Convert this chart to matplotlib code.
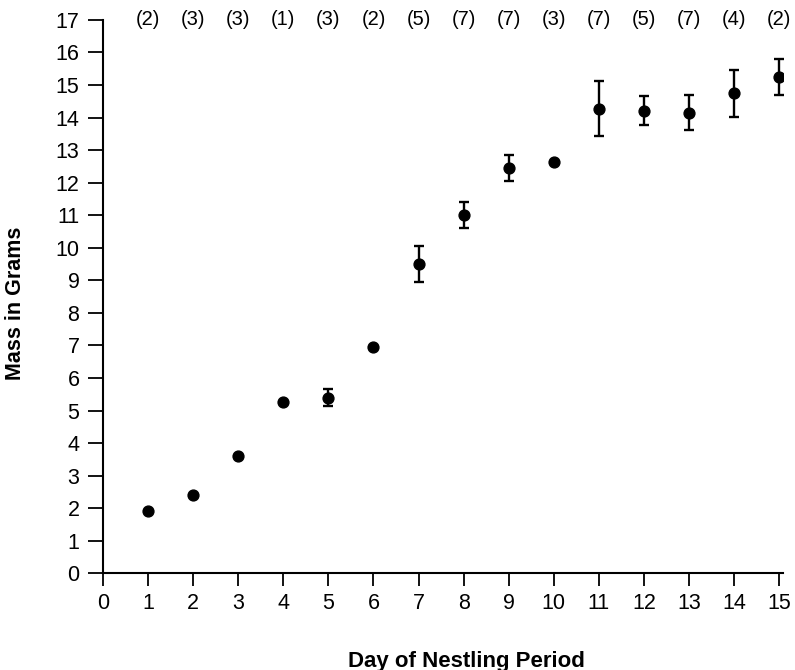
import matplotlib.pyplot as plt

plt.rcParams['font.family'] = ['Liberation Sans', 'DejaVu Sans']

# nestling mass by day, with error bars and sample sizes
days = [1, 2, 3, 4, 5, 6, 7, 8, 9, 10, 11, 12, 13, 14, 15]
mass = [1.9, 2.4, 3.6, 5.25, 5.4, 6.95, 9.5, 11.0, 12.45, 12.63,
        14.27, 14.21, 14.15, 14.74, 15.25]
err = [0, 0, 0, 0, 0.25, 0, 0.55, 0.4, 0.41, 0,
       0.85, 0.45, 0.53, 0.72, 0.55]
n_birds = ['(2)', '(3)', '(3)', '(1)', '(3)', '(2)', '(5)', '(7)', '(7)', '(3)',
           '(7)', '(5)', '(7)', '(4)', '(2)']

fig = plt.figure(figsize=(7.95, 6.7), dpi=100)
ax = fig.add_axes([0.1296, 0.1443, 0.855, 0.826])

ax.errorbar(days, mass, yerr=err, fmt='o', color='black', ms=7.8,
            elinewidth=1.7, capsize=3.5, capthick=1.7)

for d, n in zip(days, n_birds):
    ax.text(d, 17, n, ha='center', va='center', fontsize=14.5, clip_on=False)

ax.set_xlim(0, 15.08)
ax.set_ylim(0, 17)
ax.set_xticks(range(0, 16))
ax.set_yticks(range(0, 18))
ax.spines['top'].set_visible(False)
ax.spines['right'].set_visible(False)
for s in ['left', 'bottom']:
    ax.spines[s].set_linewidth(1.5)
ax.tick_params(axis='y', length=11, width=1.3, pad=6, labelsize=15.5)
ax.tick_params(axis='x', length=9, width=1.3, pad=5, labelsize=15.5)

fig.text(466 / 795, 1 - 661 / 670, 'Day of Nestling Period', ha='center',
         va='center', fontsize=16, fontweight='bold')
fig.text(16 / 795, 1 - 303 / 670, 'Mass in Grams', ha='center', va='center',
         rotation=90, fontsize=15.5, fontweight='bold')

fig.savefig('out.png', dpi=100)
